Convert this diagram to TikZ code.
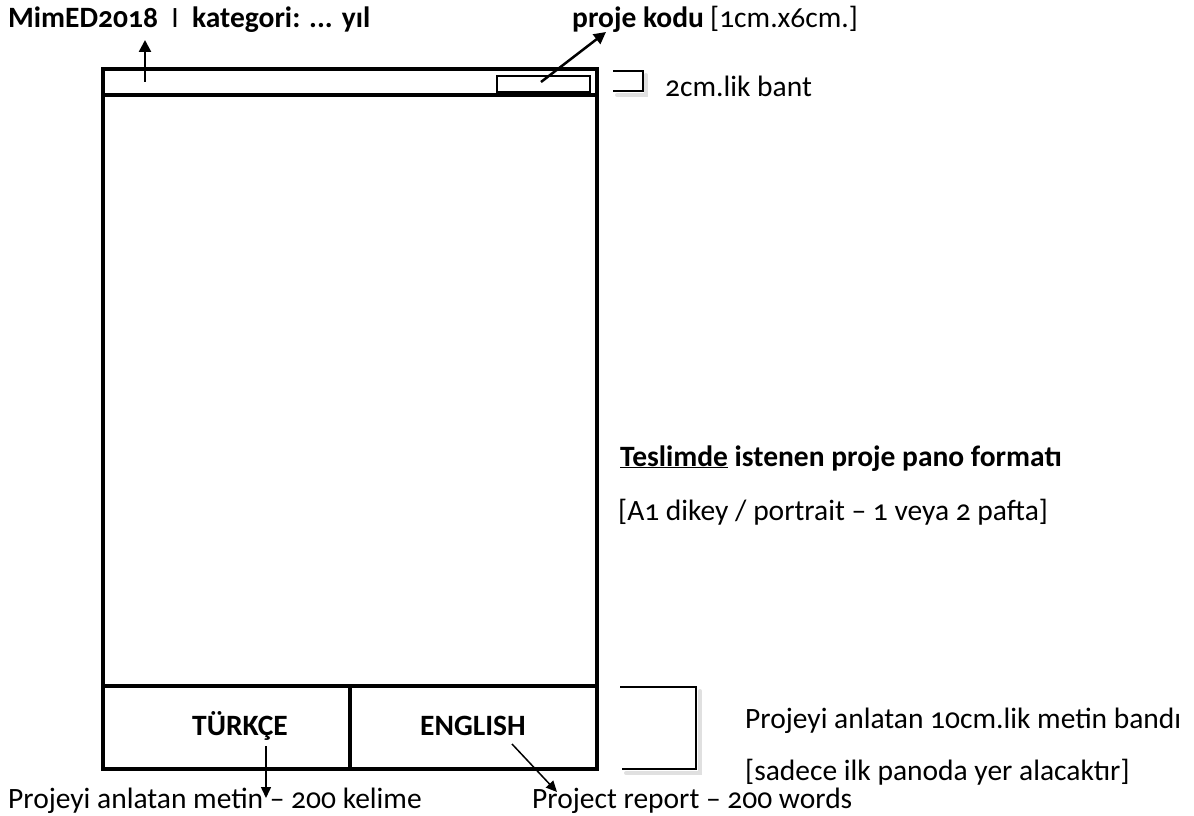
\documentclass[tikz,border=0pt]{standalone}
\usepackage{fontspec}
\setmainfont{Carlito}[Numbers=OldStyle]
\usetikzlibrary{arrows.meta}
\begin{document}
\begin{tikzpicture}[x=1pt,y=-1pt,
  frame/.style={line width=4pt,line join=miter},
  thin/.style={line width=1.5pt},
  lbl/.style={anchor=base west,inner sep=0pt,font=\fontsize{29.5}{35}\selectfont},
  blbl/.style={lbl,font=\fontsize{29.5}{35}\selectfont\bfseries},
  bigarrow/.style={line width=2.5pt,-{Triangle[length=12pt,width=12pt]}},
  smallarrow/.style={line width=1.5pt,-{Triangle[length=11pt,width=10pt]}},
  brk/.style={line width=1.5pt},
  brkshadow/.style={line width=4pt,black!12,line cap=round}]
\useasboundingbox (0,0) rectangle (1194,816);
% bracket shadows
\draw[brkshadow] (617,95) -- (646,95) -- (646,75);
\draw[brkshadow] (626,773) -- (700,773) -- (700,691);
% frame
\draw[frame] (103,69) rectangle (597,769);
\draw[frame] (103,95) -- (597,95);
\draw[frame] (103,686) -- (597,686);
\draw[frame] (350,686) -- (350,769);
\draw[thin] (497,76) rectangle (590,92);
% brackets
\draw[brk] (613,71) -- (643,71) -- (643,91) -- (613,91);
\draw[brk] (620,687) -- (696,687) -- (696,769) -- (622,769);
% texts
\node[blbl] (mim) at (8,28) {MimED2018\ \ \textmd{I}\ \ kategori: ... yıl};
\node[blbl] (kod) at (572,28) {proje kodu};
\node[lbl] (olcu) at (710,28) {[1cm.x6cm.]};
\node[lbl] (bant) at (665,96) {2cm.lik bant};
\node[blbl] (tes) at (620,466) {\underline{Teslimde} istenen proje pano formatı};
\node[lbl] (a1) at (618,520) {[A1 dikey / portrait – 1 veya 2 pafta]};
\node[blbl] (tr) at (240,735) [anchor=base] {TÜRKÇE};
\node[blbl] (en) at (473,735) [anchor=base] {ENGLISH};
\node[lbl] (mb) at (745,728) {Projeyi anlatan 10cm.lik metin bandı};
\node[lbl] (sad) at (745,780) {[sadece ilk panoda yer alacaktır]};
\node[lbl] (trt) at (8,808) {Projeyi anlatan metin – 200 kelime};
\node[lbl] (ent) at (532,808) {Project report – 200 words};
% arrows
\coordinate (s1) at (145,82);
\coordinate (e1) at (145,40);
\coordinate (s2) at (541,82);
\coordinate (e2) at (606,32);
\coordinate (s3) at (266,746);
\coordinate (e3) at (266,798);
\coordinate (s4) at (512,744);
\coordinate (e4) at (557,792);
\draw[bigarrow] (s1) -- (e1);
\draw[bigarrow] (s2) -- (e2);
\draw[smallarrow] (s3) -- (e3);
\draw[smallarrow] (s4) -- (e4);
\end{tikzpicture}
\end{document}
